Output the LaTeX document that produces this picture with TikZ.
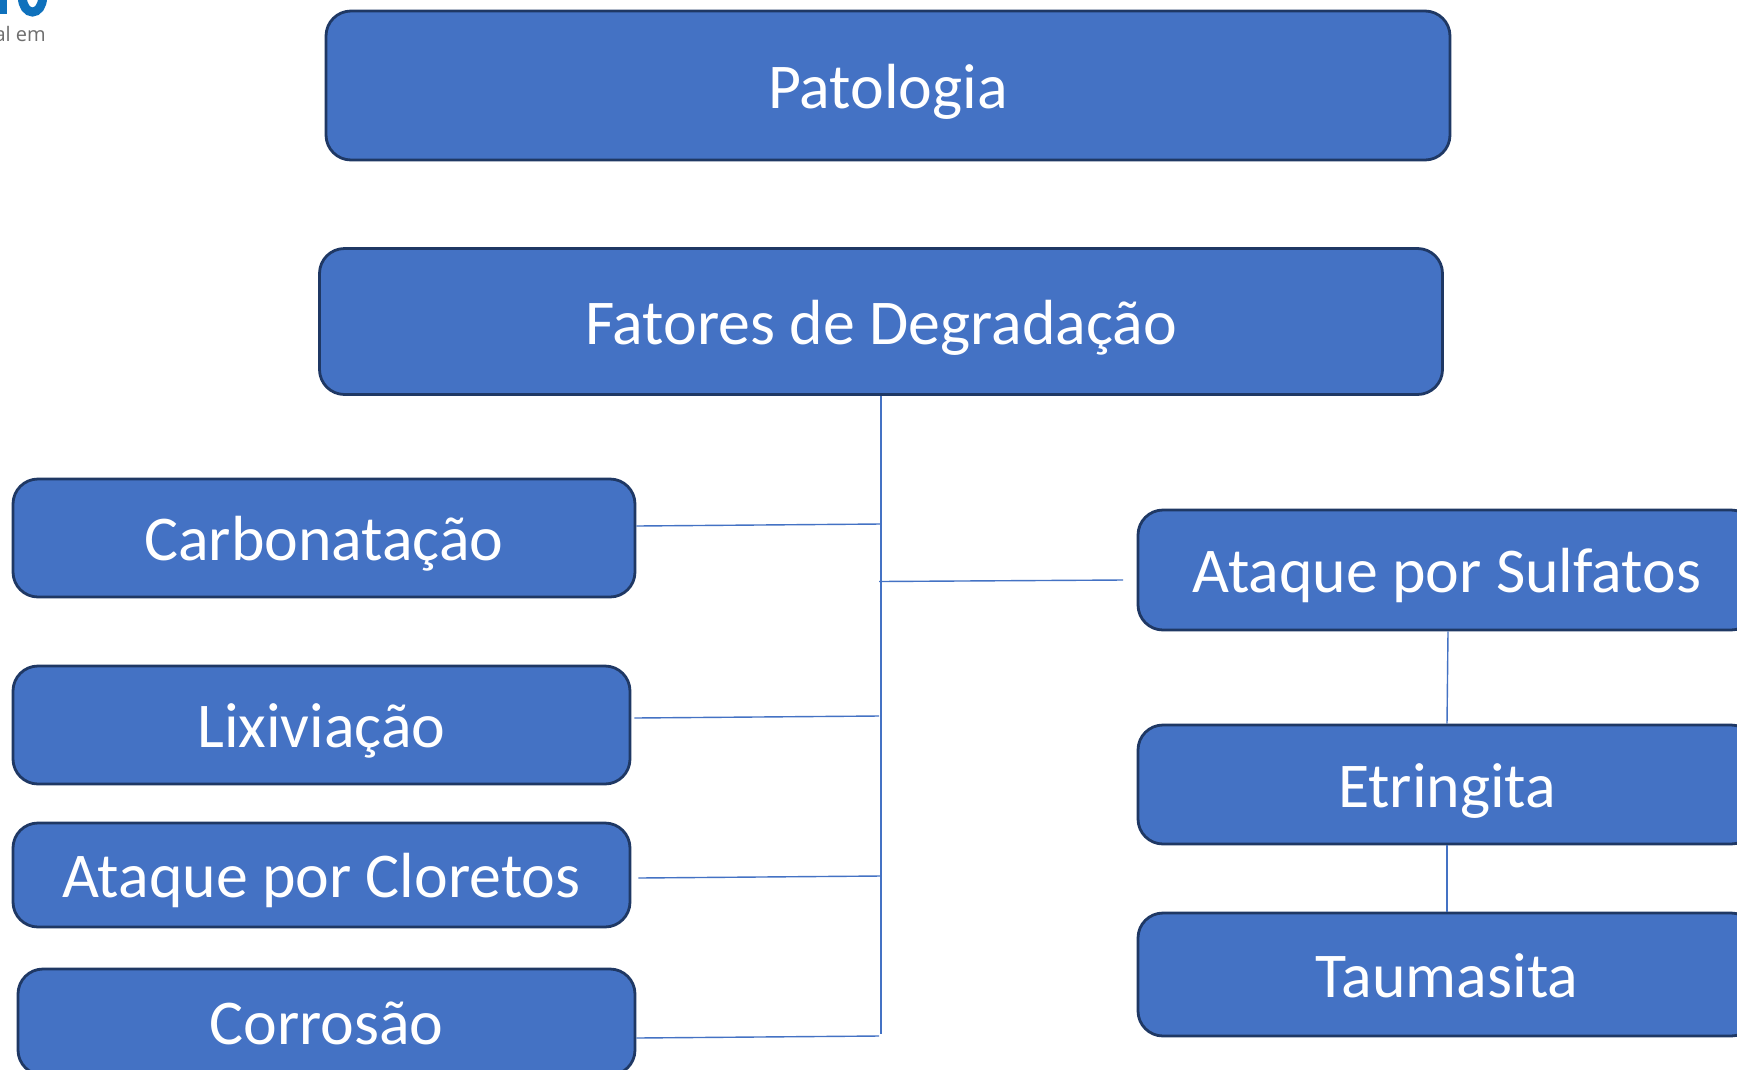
\documentclass[tikz,border=0pt]{standalone}
\usepackage{fontspec}
\setmainfont{Carlito}
\newfontfamily\logofont{Open Sans}
\definecolor{boxfill}{HTML}{4472C4}
\definecolor{boxline}{HTML}{1F3864}
\definecolor{linkcol}{HTML}{4472C4}
\definecolor{logoblue}{HTML}{0F71BC}
\definecolor{logogray}{HTML}{6E6E6E}
\tikzset{
  bluebox/.style={draw=boxline,fill=boxfill,line width=2.8pt,rounded corners=25pt,text=white,
    font=\fontsize{63.8}{70}\selectfont,inner sep=0pt,anchor=center,text height=45pt,text depth=0pt},
  linkline/.style={draw=linkcol,line width=1.4pt}
}
\begin{document}
\begin{tikzpicture}[x=1pt,y=-1pt]
\useasboundingbox (0,0) rectangle (1737,1069);
\clip (0,0) rectangle (1737,1069);
\fill[white] (0,0) rectangle (1737,1069);
% logo fragment cut by the page edge
\fill[logoblue] (0,-2) rectangle (7,14);
\draw[logoblue,line width=9pt] (22.5,-2) arc[start angle=180,end angle=0,x radius=10,y radius=14];
\node[text=logogray,font=\logofont\fontsize{20}{22}\selectfont,anchor=base east,inner sep=0pt] (logotext) at (46,41) {al em};
% boxes
\node[bluebox,minimum width=1124pt,minimum height=149pt] (pat) at (888,85.5) {Patologia};
\node[bluebox,minimum width=1123pt,minimum height=146pt] (fat) at (881,321.5) {Fatores de Degradação};
\node[bluebox,minimum width=622pt,minimum height=118pt] (carb) at (324,538) {Carbonatação};
\node[bluebox,minimum width=617pt,minimum height=118pt] (lix) at (321.5,725) {Lixiviação};
\node[bluebox,minimum width=617pt,minimum height=104pt] (clo) at (321.5,875) {Ataque por Cloretos};
\node[bluebox,minimum width=617pt,minimum height=106pt] (cor) at (326.5,1022) {Corrosão};
\node[bluebox,minimum width=618pt,minimum height=120pt] (sul) at (1447,570) {Ataque por Sulfatos};
\node[bluebox,minimum width=618pt,minimum height=119pt] (etr) at (1447,784.5) {Etringita};
\node[bluebox,minimum width=618pt,minimum height=123pt] (tau) at (1447,974.5) {Taumasita};
% connectors
\coordinate (trunkend) at (881,1034);
\coordinate (jcarb) at (881,524);
\coordinate (jlix) at (879,716);
\coordinate (jclo) at (881,876);
\coordinate (jcor) at (879,1036);
\coordinate (jsulA) at (879,581.5);
\coordinate (jsulB) at (1123,580);
\draw[linkline] (fat.south) -- (trunkend);
\draw[linkline] ([yshift=12pt]carb.east) -- (jcarb);
\draw[linkline] ([yshift=7pt,xshift=3pt]lix.east) -- (jlix);
\draw[linkline] ([yshift=-3pt,xshift=7pt]clo.east) -- (jclo);
\draw[linkline] ([yshift=-16pt]cor.east) -- (jcor);
\draw[linkline] (jsulA) -- (jsulB);
\draw[linkline] ([xshift=1pt]sul.south) -- (etr.north);
\draw[linkline] (etr.south) -- (tau.north);
\end{tikzpicture}
\end{document}
